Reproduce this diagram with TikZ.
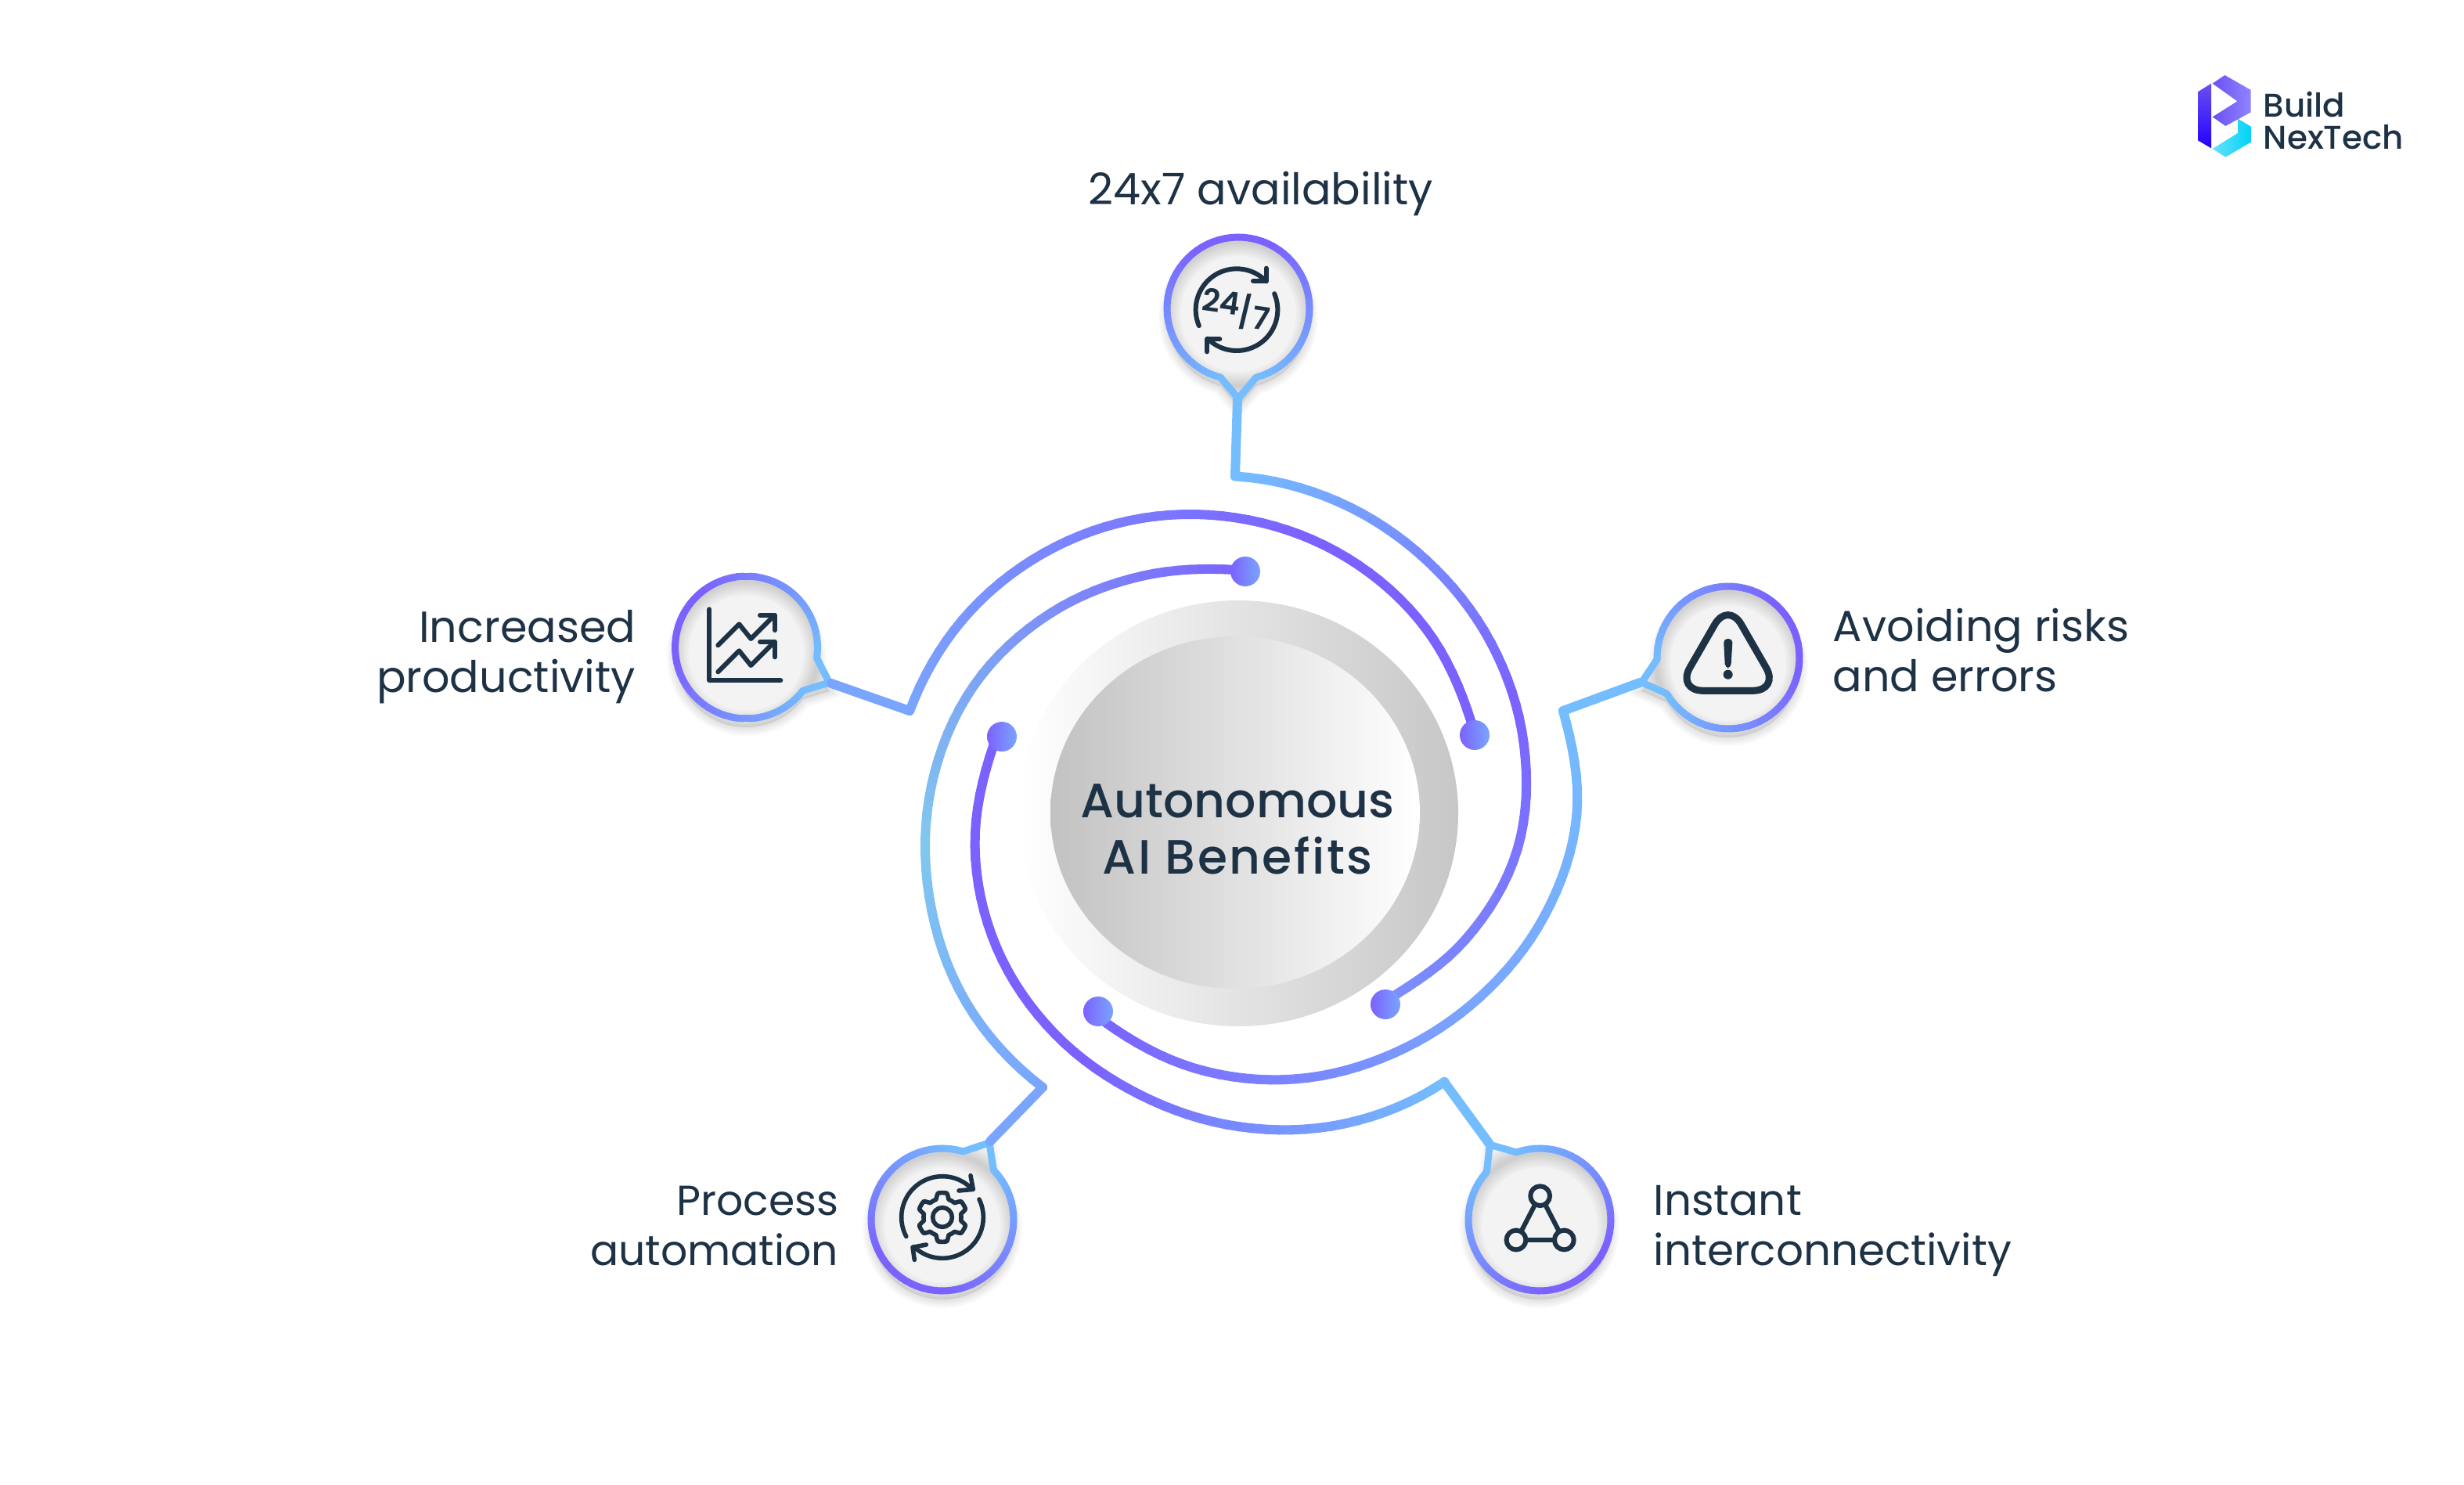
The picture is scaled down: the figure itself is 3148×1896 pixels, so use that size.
\documentclass[tikz,border=0pt]{standalone}
\usepackage{fontspec}
\setmainfont{Poppins}
\newfontfamily\medf{Poppins}[UprightFont=* Medium]
\newfontfamily\semif{Poppins}[UprightFont=* SemiBold]
\definecolor{ink}{HTML}{1E3245}
\definecolor{lb}{HTML}{74BDFF}
\definecolor{mb}{HTML}{7AA5FF}
\definecolor{vb}{HTML}{7B8FFF}
\definecolor{pu}{HTML}{7B62FF}
\definecolor{cy}{HTML}{80C8EE}
\definecolor{bfill}{HTML}{F3F3F3}
\definecolor{HTMLa}{HTML}{6A50F0}
\definecolor{HTMLb}{HTML}{8F85FF}
\definecolor{HTMLc}{HTML}{2200FF}
\definecolor{HTMLd}{HTML}{6BDFFF}
\definecolor{HTMLe}{HTML}{00D4F5}
% gradient stroke along a spiral arc: colA colB colC p cx cy th0 dth {eight radii}
\newcommand{\polstroke}[9]{%
  \def\rs{{#9}}%
  \foreach \i in {0,...,6}{%
    \pgfmathtruncatemacro\ia{max(\i-1,0)}\pgfmathtruncatemacro\ic{\i+1}\pgfmathtruncatemacro\id{min(\i+2,7)}%
    \pgfmathsetmacro\ra{\rs[\ia]}\pgfmathsetmacro\rb{\rs[\i]}\pgfmathsetmacro\rc{\rs[\ic]}\pgfmathsetmacro\rd{\rs[\id]}%
    \foreach \j in {0,...,7}{%
      \pgfmathsetmacro\ta{\j/8}\pgfmathsetmacro\tb{(\j+1)/8}%
      \pgfmathsetmacro\qa{.5*(2*\rb+(\rc-\ra)*\ta+(2*\ra-5*\rb+4*\rc-\rd)*\ta*\ta+(3*\rb-\ra-3*\rc+\rd)*\ta*\ta*\ta)}%
      \pgfmathsetmacro\qb{.5*(2*\rb+(\rc-\ra)*\tb+(2*\ra-5*\rb+4*\rc-\rd)*\tb*\tb+(3*\rb-\ra-3*\rc+\rd)*\tb*\tb*\tb)}%
      \pgfmathsetmacro\tha{#7+(\i+\ta)*#8}\pgfmathsetmacro\thb{#7+(\i+\tb)*#8}%
      \pgfmathsetmacro\ff{(\i+\ta)/7}%
      \pgfmathsetmacro\pct{\ff<#4?100*\ff/#4:100*(\ff-#4)/(1-#4)}%
      \pgfmathparse{\ff<#4?1:0}%
      \ifdim\pgfmathresult pt>.5pt \colorlet{cc}{#2!\pct!#1}\else\colorlet{cc}{#3!\pct!#2}\fi
      \draw[cc,line width=3pt,line cap=round] ({#5+\qa*cos(\tha)},{#6+\qa*sin(\tha)}) -- ({#5+\qb*cos(\thb)},{#6+\qb*sin(\thb)});
    }%
  }%
}
\newcommand{\setb}[3]{\def\bcx{#1}\def\bcy{#2}\def\ba{#3}%
  \pgfmathsetmacro\bo{#3+14.5}\pgfmathsetmacro\be{#3+345.5}%
  \pgfmathsetmacro\tx{#1+115*cos(#3)}\pgfmathsetmacro\ty{#2+115*sin(#3)}%
  \pgfmathsetmacro\sx{#1+91*cos(\bo)}\pgfmathsetmacro\sy{#2+91*sin(\bo)}%
  \pgfmathsetmacro\ux{#1+91*cos(\be)}\pgfmathsetmacro\uy{#2+91*sin(\be)}}
\def\bpath{(\tx,\ty) -- (\sx,\sy) -- plot[domain=\bo:\be,samples=90] ({\bcx+91*cos(\x)},{\bcy+91*sin(\x)}) -- cycle}
\newcommand{\bubble}[4]{\setb{#2}{#3}{#4}%
  \coordinate (#1) at (#2,#3);
  \foreach \k in {1,...,7}{\draw[black,opacity=.014,line width=\k*.8pt,fill=black,fill opacity=.012,shift={(0pt,-2.75pt)}] \bpath;}
  \fill[bfill] \bpath;
  \begin{scope}\clip \bpath;
    \foreach \k in {1,...,6}{\draw[black,opacity=.022,line width=\k*1.5pt] (#2,#3+7) circle[radius=23pt];}
  \end{scope}
  \draw[lb,line width=2.25pt,line cap=round] (\sx,\sy) -- (\tx,\ty) -- (\ux,\uy);
  \foreach \q in {0,...,65}{%
    \pgfmathsetmacro\aa{\bo+\q*5}\pgfmathsetmacro\ab{\bo+(\q+1)*5}%
    \pgfmathsetmacro\pct{100*min(1,1.25*(1-abs(2*(\q+.5)/66-1)))}%
    \colorlet{cc}{pu!\pct!lb}%
    \draw[cc,line width=2.25pt,line cap=round] ({#2+91*cos(\aa)},{#3+91*sin(\aa)}) -- ({#2+91*cos(\ab)},{#3+91*sin(\ab)});
  }}
\tikzset{
  stem/.style={line width=3pt,line cap=round,line join=round},
  icon/.style={draw=ink,line cap=round,line join=round,line width=1.5pt},
  lab/.style={text=ink,font=\fontsize{13.9}{16}\selectfont,inner sep=0pt},
  dotn/.style={left color=pu,right color=mb}
}
\begin{document}
\begin{tikzpicture}[x=.25pt,y=-.25pt]
\useasboundingbox (0,0) rectangle (3148,1896);
\fill[white] (0,0) rectangle (3148,1896);
% central disc
\shade[left color=white,right color=black!22] (1582,1039) ellipse[x radius=70.25pt,y radius=68pt];
\shade[left color=black!24,right color=white] (1578,1038) ellipse[x radius=59pt,y radius=56.25pt];
\node[lab,font=\medf\fontsize{15.4}{18}\selectfont,align=center] (title) at (1581,1059) {Autonomous\\\addfontfeature{LetterSpace=4}AI Benefits};
% arms
\coordinate (c1) at (1578,608); \coordinate (c2) at (1997,908); \coordinate (c3) at (1845,1382);
\coordinate (c4) at (1332,1389); \coordinate (c5) at (1162,908);
\polstroke{lb}{pu}{vb}{.5}{1560}{1000}{-87.4}{20}{392,389,387,388.5,390,388,371,349.5}
\polstroke{lb}{mb}{pu}{.45}{1620}{1000}{-13.7}{19.67}{388,396.5,392,385,381,380,376.5,370}
\polstroke{lb}{pu}{pu}{.5}{1620}{1060}{55}{20.29}{393,388,381,376,377,378,375,367}
\polstroke{mb}{cy}{pu}{.35}{1580}{1060}{127}{20.43}{412,410,402,394,383,365,346,332}
\polstroke{mb}{pu}{pu}{.65}{1521}{1045}{200.9}{20.03}{384,386,387,388,388,388,386,379}
\shade[dotn] (1591,730) circle[radius=4.75pt];
\shade[dotn] (1884,939) circle[radius=4.75pt];
\shade[dotn] (1770,1283) circle[radius=4.75pt];
\shade[dotn] (1403,1292) circle[radius=4.75pt];
\shade[dotn] (1280,941) circle[radius=4.75pt];
% bubbles
\bubble{b1}{1582}{394}{90}
\bubble{b2}{953.5}{827}{23}
\bubble{b3}{2208}{840}{164}
\bubble{b4}{1204}{1558}{-58.6}
\bubble{b5}{1967}{1558}{-123.6}
\coordinate (t1) at (1581,510); \coordinate (t2) at (1062,873); \coordinate (t3) at (2095,872);
\coordinate (t4) at (1265,1458); \coordinate (t5) at (1902,1460);
\draw[stem,lb] (t1) -- (c1);
\draw[stem,mb] (t2) -- (c5);
\draw[stem,lb] (t3) -- (c2);
\draw[stem,mb] (t4) -- (c4);
\draw[stem,lb] (t5) -- (c3);
% icon 24/7
\begin{scope}[x=.08333pt,y=-.08333pt,shift={(360pt,-70pt)}]
  \draw[icon] plot[domain=157:316,samples=40] ({420+157*cos(\x)},{347+157*sin(\x)});
  \draw[icon] plot[domain=-23:135,samples=40] ({420+157*cos(\x)},{347+157*sin(\x)});
  \draw[icon] (483,237) -- (533,237) -- (533,188);
  \draw[icon] (355,460) -- (306,460) -- (306,508);
  \node[text=ink,font=\semif\fontsize{10}{10}\selectfont,rotate=-8,inner sep=0pt] (n24) at (362,316) {24};
  \node[text=ink,font=\semif\fontsize{10}{10}\selectfont,inner sep=0pt] (nsl) at (455,355) {/};
  \node[text=ink,font=\semif\fontsize{10}{10}\selectfont,rotate=-8,inner sep=0pt] (n7) at (514,380) {7};
\end{scope}
% icon chart
\begin{scope}[x=.08333pt,y=-.08333pt,shift={(210pt,-177.5pt)}]
  \draw[icon] (199,205) -- (199,478) -- (472,478);
  \draw[icon] (232,343) -- (313,262) -- (358,318) -- (448,228);
  \draw[icon] (393,228) -- (450,228) -- (450,285);
  \draw[icon] (232,445) -- (313,364) -- (358,420) -- (448,330);
  \draw[icon] (393,330) -- (450,330) -- (450,388);
\end{scope}
% icon warning
\begin{scope}[x=.08333pt,y=-.08333pt,shift={(495pt,-180pt)}]
  \draw[icon,line width=2.25pt,rounded corners=8.5pt] (683,145) -- (880,487) -- (486,487) -- cycle;
  \fill[ink,rounded corners=1.25pt] (666,288) -- (701,288) -- (694,400) -- (672,400) -- cycle;
  \fill[ink] (683,425) circle[radius=1.5pt];
\end{scope}
% icon gear
\begin{scope}[x=.08333pt,y=-.08333pt,shift={(270pt,-340pt)}]
  \tikzset{gi/.style={icon,line width=1.4pt}}
  \draw[gi] plot[domain=152:314,samples=40] ({372+157*cos(\x)},{585+157*sin(\x)});
  \draw[gi] plot[domain=-26:134,samples=40] ({372+157*cos(\x)},{585+157*sin(\x)});
  \draw[gi] (480,425) -- (490,478) -- (435,483);
  \draw[gi] (310,690) -- (258,700) -- (265,748);
  \draw[gi] plot[domain=0:360,samples=180] ({372+(83+11*max(-1,min(1,2.2*cos(6*(\x-30)))))*cos(\x)},{585+(83+11*max(-1,min(1,2.2*cos(6*(\x-30)))))*sin(\x)}) -- cycle;
  \draw[gi] (372,585) circle[radius=3.1pt];
\end{scope}
% icon network
\begin{scope}[x=.08333pt,y=-.08333pt,shift={(455pt,-340pt)}]
  \draw[icon] (443,503) circle[radius=3.1pt];
  \draw[icon] (351,672) circle[radius=3.1pt];
  \draw[icon] (535,672) circle[radius=3.1pt];
  \draw[icon] (420,543) -- (373,634);
  \draw[icon] (466,543) -- (513,634);
  \draw[icon] (395,672) -- (491,672);
\end{scope}
% logo
\begin{scope}[x=.08333pt,y=-.08333pt,shift={(695pt,-20pt)}]
  \shade[left color=HTMLa,right color=HTMLb] (140,80) -- (187,48) -- (287,105) -- (287,190) -- (190,243) -- (140,208) -- (235,148) -- cycle;
  \shade[top color=HTMLa,bottom color=HTMLc] (84,112) -- (135,80) -- (135,328) -- (84,298) -- cycle;
  \shade[left color=HTMLd,right color=HTMLe] (237,215) -- (287,245) -- (287,305) -- (190,362) -- (140,330) -- (237,270) -- cycle;
\end{scope}
\node[lab,font=\medf\fontsize{10.5}{10.5}\selectfont,anchor=base west] (lg1) at (2891,149) {Build};
\node[lab,font=\medf\fontsize{10.5}{10.5}\selectfont,anchor=base west] (lg2) at (2891,190) {NexTech};
% labels
\node[lab,anchor=base] (l1) at (1611,261) {24x7 availability};
\node[lab,align=right,anchor=east] (l2) at (813,839) {Increased\\productivity};
\node[lab,align=left,anchor=west] (l3) at (2341,831) {Avoiding risks\\and errors};
\node[lab,font=\fontsize{13.4}{16}\selectfont,align=right,anchor=east] (l4) at (1072,1566) {Process\\automation};
\node[lab,font=\fontsize{13.7}{16}\selectfont,align=left,anchor=west] (l5) at (2112,1572) {Instant\\interconnectivity};
\end{tikzpicture}
\end{document}
